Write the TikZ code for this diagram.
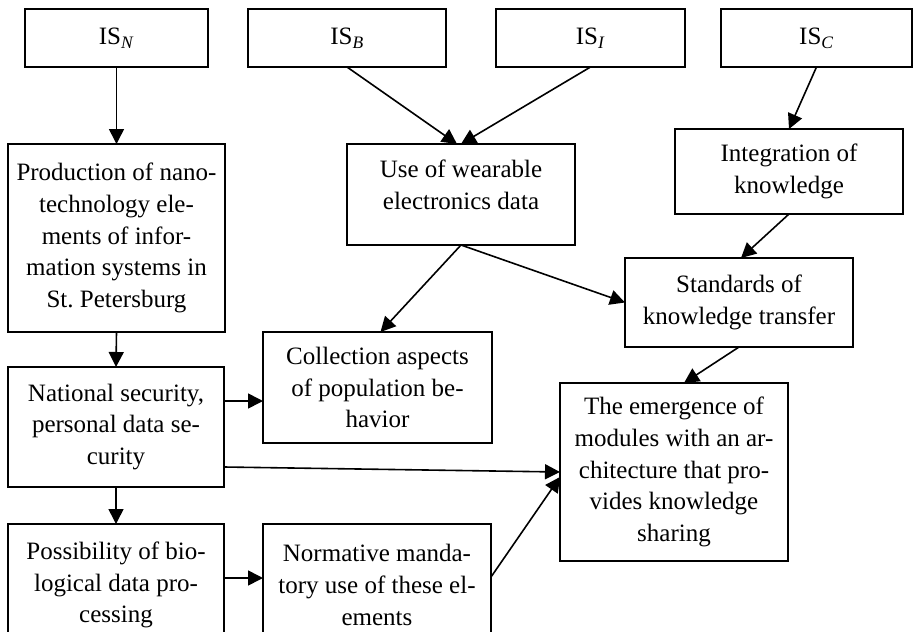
\documentclass[tikz,border=0pt]{standalone}
\usepackage{fontspec}
\setmainfont{Liberation Serif}
\usetikzlibrary{arrows.meta}
\begin{document}
\begin{tikzpicture}[x=1pt,y=-1pt,font=\fontsize{25}{31.7}\selectfont\frenchspacing,
  box/.style={draw,line width=1.8pt,inner sep=0pt,outer sep=0pt,align=center},
  arr/.style={line width=1.6pt,-{Triangle[length=15pt,width=15pt]}}]
\useasboundingbox (0,0) rectangle (914,632);
\node[box,minimum width=183pt,minimum height=58pt](isn) at (116.5,38){IS\textsubscript{\textit{N}}};
\node[box,minimum width=198pt,minimum height=58pt](isb) at (347,38){IS\textsubscript{\textit{B}}};
\node[box,minimum width=189pt,minimum height=58pt](isi) at (590.5,38){IS\textsubscript{\textit{I}}};
\node[box,minimum width=191pt,minimum height=58pt](isc) at (816.5,38){IS\textsubscript{\textit{C}}};
\node[box,minimum width=217pt,minimum height=188pt](prod) at (116.5,238){Production of nano-\\technology ele-\\ments of infor-\\mation systems in\\St. Petersburg};
\node[box,minimum width=228pt,minimum height=101pt,text depth=20pt](use) at (461,194.5){Use of wearable\\electronics data};
\node[box,minimum width=228pt,minimum height=85pt](integ) at (789,171.5){Integration of\\knowledge};
\node[box,minimum width=228pt,minimum height=89pt](stand) at (739,302.5){Standards of\\knowledge transfer};
\node[box,minimum width=229pt,minimum height=111pt](coll) at (377.5,387.5){Collection aspects\\of population be-\\havior};
\node[box,minimum width=216pt,minimum height=120pt](nat) at (116,427){National security,\\personal data se-\\curity};
\node[box,minimum width=228pt,minimum height=178pt](emerg) at (674,472){The emergence of\\modules with an ar-\\chitecture that pro-\\vides knowledge\\sharing};
\node[box,minimum width=216pt,minimum height=122pt](poss) at (116,585){Possibility of bio-\\logical data pro-\\cessing};
\node[box,minimum width=228pt,minimum height=122pt](norm) at (377,585){Normative manda-\\tory use of these el-\\ements};
\draw[arr](isn.south)--(prod.north);
\draw[arr](isb.south)--([xshift=-4pt]use.north);
\draw[arr](isi.south)--(use.north);
\draw[arr](isc.south)--(integ.north);
\draw[arr](integ.south)--([xshift=2pt]stand.north);
\draw[arr](use.south)--([xshift=3pt]coll.north);
\draw[arr](use.south)--(stand.west);
\draw[arr](stand.south)--([xshift=10pt]emerg.north);
\draw[arr](prod.south)--(nat.north);
\draw[arr]([yshift=26pt]nat.east)--([yshift=-13.5pt]coll.west);
\draw[arr]([yshift=-40pt]nat.east)--(emerg.west);
\draw[arr](nat.south)--(poss.north);
\draw[arr]([yshift=7pt]poss.east)--([yshift=7pt]norm.east-|norm.west);
\draw[arr]([yshift=8pt]norm.east)--([yshift=-5pt]emerg.west);
\end{tikzpicture}
\end{document}
